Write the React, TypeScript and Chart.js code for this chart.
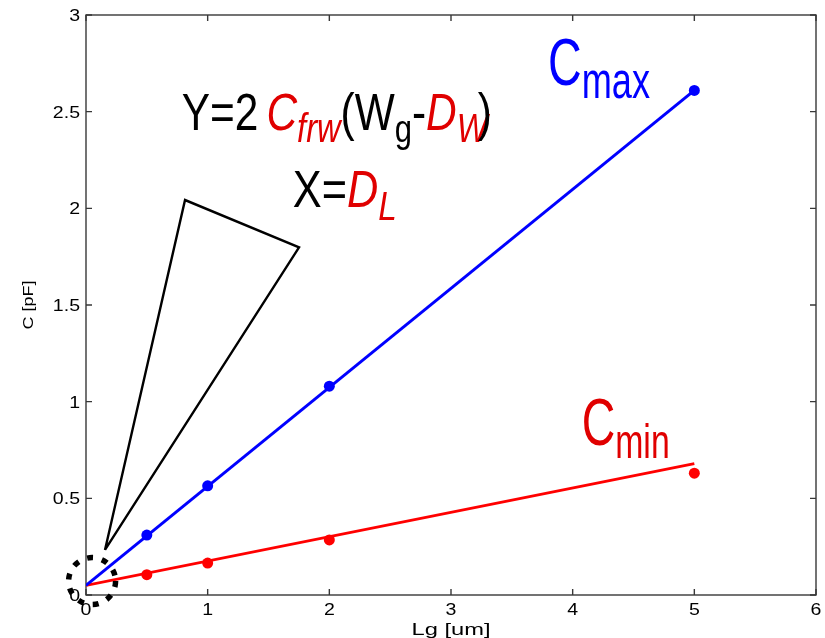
import React, { useEffect, useRef } from 'react';
import { Chart, registerables } from 'chart.js';

Chart.register(...registerables);

// ---- data ----
const xTicks = [0, 1, 2, 3, 4, 5, 6];
const xTickLabels = ['0', '1', '2', '3', '4', '5', '6'];
const yTicks = [0, 0.5, 1, 1.5, 2, 2.5, 3];
const yTickLabels = ['0', '0.5', '1', '1.5', '2', '2.5', '3'];
const lgValues = [0.5, 1, 2, 5];
const cmaxValues = [0.31, 0.565, 1.08, 2.61];
const cminValues = [0.105, 0.165, 0.285, 0.63];
const cmaxFitX = [0, 5];
const cmaxFitY = [0.05, 2.61];
const cminFitX = [0, 5];
const cminFitY = [0.05, 0.68];
const triangleX = [0.156, 0.814, 1.751, 0.156];
const triangleY = [0.233, 2.043, 1.798, 0.233];
const circleCenter = [0.05, 0.072];
const xTitle = 'Lg [um]';
const yTitle = 'C [pF]';

const FONT = '"Liberation Sans", Arial, Helvetica, sans-serif';
const BLUE = '#0000ff';
const RED = '#ff0000';
const TEXT_RED = '#e00000';

type Seg = { t: string; c: string; it?: boolean; s: number; dy?: number; dx?: number };

function drawRun(ctx: CanvasRenderingContext2D, segs: Seg[], x: number, y: number, targetW: number) {
  const widths = segs.map((sg) => {
    ctx.font = `${sg.it ? 'italic ' : ''}${sg.s}px ${FONT}`;
    return ctx.measureText(sg.t).width;
  });
  const nat = widths.reduce((a, w, i) => a + w + (segs[i].dx || 0), 0);
  const sx = targetW / nat;
  ctx.save();
  ctx.translate(x, y);
  ctx.scale(sx, 1);
  ctx.textAlign = 'left';
  ctx.textBaseline = 'alphabetic';
  let cx = 0;
  segs.forEach((sg, i) => {
    ctx.font = `${sg.it ? 'italic ' : ''}${sg.s}px ${FONT}`;
    ctx.fillStyle = sg.c;
    ctx.fillText(sg.t, cx, sg.dy || 0);
    cx += widths[i] + (sg.dx || 0);
  });
  ctx.restore();
}

function drawStretched(ctx: CanvasRenderingContext2D, text: string, x: number, y: number, size: number, sx: number, align: CanvasTextAlign, color = '#000') {
  ctx.save();
  ctx.translate(x, y);
  ctx.scale(sx, 1);
  ctx.font = `${size}px ${FONT}`;
  ctx.fillStyle = color;
  ctx.textAlign = align;
  ctx.textBaseline = 'alphabetic';
  ctx.fillText(text, 0, 0);
  ctx.restore();
}

const decorPlugin = {
  id: 'decor',
  beforeDatasetsDraw(chart: any) {
    const { ctx, chartArea: a, scales } = chart;
    const xs = scales.x;
    const ys = scales.y;
    ctx.save();
    ctx.strokeStyle = '#383838';
    ctx.lineWidth = 1.4;
    ctx.strokeRect(a.left, a.top, a.right - a.left, a.bottom - a.top);
    const tl = 6;
    ctx.beginPath();
    xTicks.forEach((v) => {
      const px = xs.getPixelForValue(v);
      ctx.moveTo(px, a.bottom);
      ctx.lineTo(px, a.bottom - tl);
      ctx.moveTo(px, a.top);
      ctx.lineTo(px, a.top + tl);
    });
    yTicks.forEach((v) => {
      const py = ys.getPixelForValue(v);
      ctx.moveTo(a.left, py);
      ctx.lineTo(a.left + tl, py);
      ctx.moveTo(a.right, py);
      ctx.lineTo(a.right - tl, py);
    });
    ctx.stroke();
    ctx.restore();

    // tick labels
    xTicks.forEach((v, i) => {
      drawStretched(ctx, xTickLabels[i], xs.getPixelForValue(v), a.bottom + 20, 16, 1.22, 'center');
    });
    yTicks.forEach((v, i) => {
      drawStretched(ctx, yTickLabels[i], a.left - 6, ys.getPixelForValue(v) + 6, 16, 1.22, 'right');
    });

    // axis titles
    ctx.save();
    ctx.font = `16px ${FONT}`;
    const xw = ctx.measureText(xTitle).width;
    ctx.restore();
    drawStretched(ctx, xTitle, (a.left + a.right) / 2, a.bottom + 40, 16, 79 / xw, 'center');

    ctx.save();
    ctx.font = `15px ${FONT}`;
    const yw = ctx.measureText(yTitle).width;
    ctx.translate(33, (a.top + a.bottom) / 2);
    ctx.rotate(-Math.PI / 2);
    ctx.scale(49 / yw, 1);
    ctx.fillStyle = '#000';
    ctx.textAlign = 'center';
    ctx.textBaseline = 'alphabetic';
    ctx.fillText(yTitle, 0, 0);
    ctx.restore();
  },
  afterDraw(chart: any) {
    const { ctx, scales } = chart;
    const xs = scales.x;
    const ys = scales.y;
    const X = (v: number) => xs.getPixelForValue(v);
    const Y = (v: number) => ys.getPixelForValue(v);

    // formula
    drawRun(
      ctx,
      [
        { t: 'Y=2', c: '#000', s: 52, dx: 10 },
        { t: 'C', c: TEXT_RED, it: true, s: 52 },
        { t: 'frw', c: TEXT_RED, it: true, s: 40, dy: 12 },
        { t: '(W', c: '#000', s: 52 },
        { t: 'g', c: '#000', s: 38, dy: 12 },
        { t: '-', c: '#000', s: 52 },
        { t: 'D', c: TEXT_RED, it: true, s: 52 },
        { t: 'W', c: TEXT_RED, it: true, s: 40, dy: 12, dx: -12 },
        { t: ')', c: '#000', s: 52 },
      ],
      X(0.787),
      Y(2.405),
      310
    );
    drawRun(
      ctx,
      [
        { t: 'X=', c: '#000', s: 52 },
        { t: 'D', c: TEXT_RED, it: true, s: 52 },
        { t: 'L', c: TEXT_RED, it: true, s: 40, dy: 13 },
      ],
      X(1.7),
      Y(2.009),
      104
    );
    drawRun(
      ctx,
      [
        { t: 'C', c: BLUE, s: 67 },
        { t: 'max', c: BLUE, s: 52, dy: 13 },
      ],
      X(3.797),
      Y(2.638),
      102
    );
    drawRun(
      ctx,
      [
        { t: 'C', c: TEXT_RED, s: 66 },
        { t: 'min', c: TEXT_RED, s: 48, dy: 13 },
      ],
      X(4.074),
      Y(0.776),
      88
    );

    // dashed circle near origin
    ctx.save();
    ctx.beginPath();
    ctx.arc(X(circleCenter[0]), Y(circleCenter[1]), 23.5, 0, Math.PI * 2);
    ctx.setLineDash([6, 9]);
    ctx.lineWidth = 5.5;
    ctx.strokeStyle = '#000';
    ctx.stroke();
    ctx.restore();
  },
};

export default function App() {
  const ref = useRef<HTMLCanvasElement>(null);
  useEffect(() => {
    if (!ref.current) return;
    const pts = (xs: number[], ys: number[]) => xs.map((x, i) => ({ x, y: ys[i] }));
    const chart = new Chart(ref.current, {
      type: 'scatter',
      data: {
        datasets: [
          {
            label: 'Cmax fit',
            data: pts(cmaxFitX, cmaxFitY),
            showLine: true,
            borderColor: BLUE,
            borderWidth: 3,
            pointRadius: 0,
          },
          {
            label: 'Cmin fit',
            data: pts(cminFitX, cminFitY),
            showLine: true,
            borderColor: RED,
            borderWidth: 2.8,
            pointRadius: 0,
          },
          {
            label: 'Cmax',
            data: pts(lgValues, cmaxValues),
            showLine: false,
            backgroundColor: BLUE,
            borderColor: BLUE,
            pointRadius: 5.5,
            borderWidth: 0,
          },
          {
            label: 'Cmin',
            data: pts(lgValues, cminValues),
            showLine: false,
            backgroundColor: RED,
            borderColor: RED,
            pointRadius: 5.5,
            borderWidth: 0,
          },
          {
            label: 'triangle',
            data: pts(triangleX, triangleY),
            showLine: true,
            borderColor: '#000',
            borderWidth: 2.4,
            pointRadius: 0,
          },
        ] as any,
      },
      options: {
        animation: false,
        responsive: false,
        layout: { padding: { top: 15, right: 9, left: 0, bottom: 0 } },
        plugins: { legend: { display: false }, tooltip: { enabled: false } },
        scales: {
          x: {
            type: 'linear',
            min: 0,
            max: 6,
            ticks: { display: false, stepSize: 1 },
            grid: { display: false },
            border: { display: false },
            afterFit: (s: any) => {
              s.height = 43;
            },
          },
          y: {
            type: 'linear',
            min: 0,
            max: 3,
            ticks: { display: false, stepSize: 0.5 },
            grid: { display: false },
            border: { display: false },
            afterFit: (s: any) => {
              s.width = 86;
            },
          },
        },
      } as any,
      plugins: [decorPlugin],
    });
    return () => chart.destroy();
  }, []);
  return (
    <div style={{ position: 'absolute', left: 0, top: 0, width: 825, height: 638, background: '#fff' }}>
      <canvas ref={ref} width={825} height={638} style={{ display: 'block' }} />
    </div>
  );
}
